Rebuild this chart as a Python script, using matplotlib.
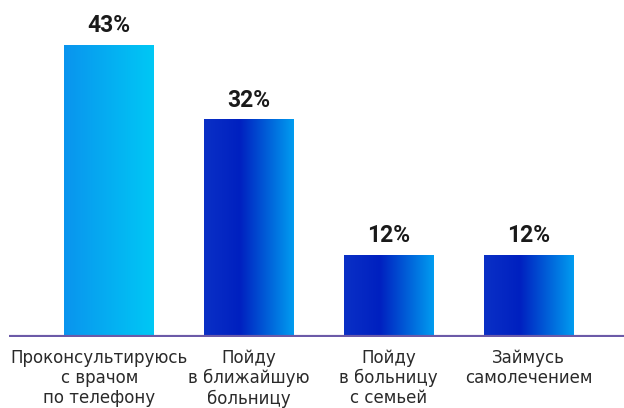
import numpy as np
import matplotlib.pyplot as plt
from matplotlib.colors import LinearSegmentedColormap

categories = ['Проконсультируюсь\nс врачом\nпо телефону',
              'Пойду\nв ближайшую\nбольницу',
              'Пойду\nв больницу\nс семьей',
              'Займусь\nсамолечением']
values = [43, 32, 12, 12]
labels = ['43%', '32%', '12%', '12%']

plt.rcParams['font.family'] = ['DejaVu Sans']

light = LinearSegmentedColormap.from_list('light', ['#0a94ee', '#00c8f5'])
dark = LinearSegmentedColormap.from_list('dark', [(0, '#0a30c6'), (0.4, '#0020c0'), (1, '#009cf0')])

fig = plt.figure(figsize=(6.24, 4.08), dpi=100)
ax = fig.add_axes([9 / 624, 71 / 408, 1 - 9 / 624, 337 / 408])

width = 0.636
grad = np.linspace(0, 1, 256).reshape(1, -1)
for i, v in enumerate(values):
    cmap = light if i == 0 else dark
    ax.imshow(grad, cmap=cmap, aspect='auto', extent=[i - width / 2, i + width / 2, 0, v], zorder=2)
    ax.text(i, v + 1.2, labels[i], ha='center', va='bottom', fontsize=16.5,
            fontweight='bold', color='#1a1a1a', family='Roboto')
    xoff = -0.065 if i == 0 else 0
    ax.text(i + xoff, -1.8, categories[i], ha='center', va='top', fontsize=12,
            color='#2a2a2a', linespacing=1.14)

ax.axhline(0, color='#6c5aa8', lw=3, zorder=3)
ax.set_xlim(-0.711, 3.682)
ax.set_ylim(0, 337 / 6.79)
ax.axis('off')

fig.savefig('out.png', dpi=100)
